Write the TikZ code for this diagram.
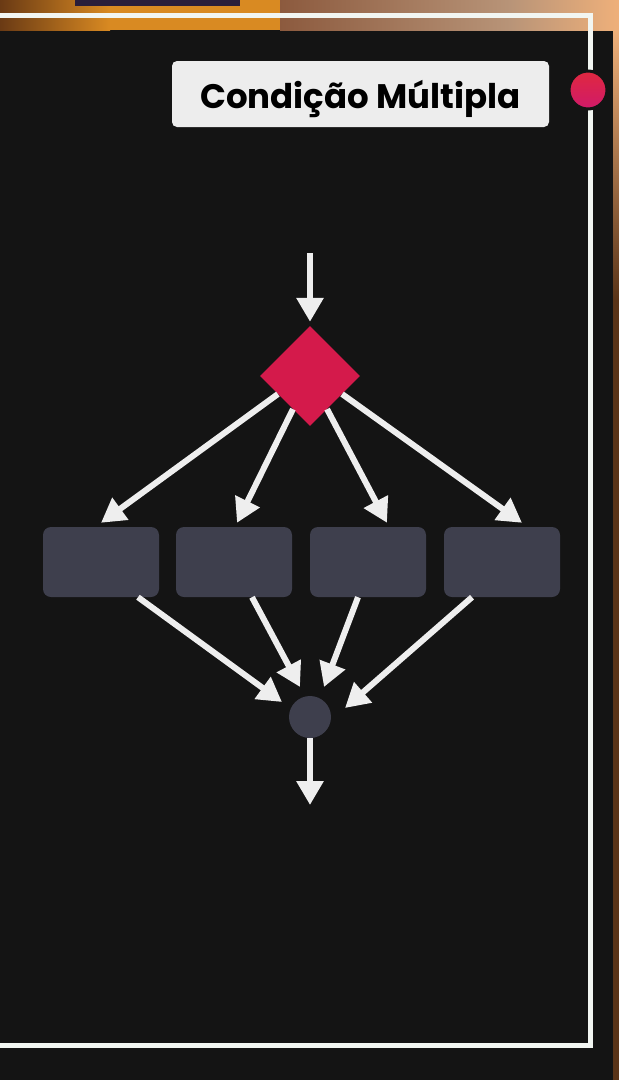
\documentclass[tikz,border=0pt]{standalone}
\usepackage{fontspec}
\setmainfont{Poppins}
\usetikzlibrary{shapes.geometric,arrows.meta,calc}
\definecolor{bg}{HTML}{141414}
\definecolor{boxc}{HTML}{3E3F4D}
\definecolor{redc}{HTML}{D41A4B}
\definecolor{arrowc}{HTML}{EEEEEE}
\definecolor{framec}{HTML}{F2F6F2}
\definecolor{titlebg}{HTML}{EDEDED}
\definecolor{dottop}{HTML}{E0283F}
\definecolor{dotbot}{HTML}{D01A6A}
\definecolor{stripA}{HTML}{6A3A14}
\definecolor{stripB}{HTML}{D98A22}
\definecolor{stripC}{HTML}{8C5A3E}
\definecolor{stripD}{HTML}{B89478}
\definecolor{stripE}{HTML}{EFB07A}
\definecolor{navy}{HTML}{2A1E3A}
\definecolor{rstrip}{HTML}{5A3418}
\begin{document}
\begin{tikzpicture}[x=1pt,y=-1pt,
  stepbox/.style={draw=none,fill=boxc,rounded corners=8pt,minimum width=116pt,minimum height=70pt,inner sep=0pt},
  decision/.style={diamond,fill=redc,minimum width=100pt,minimum height=100pt,inner sep=0pt},
  merge/.style={circle,fill=boxc,minimum size=42pt,inner sep=0pt},
  flow/.style={draw=arrowc,line width=6pt,-{Triangle[width=26pt,length=24pt]}},
  titlebox/.style={fill=titlebg,rounded corners=5pt,minimum width=377pt,minimum height=66pt,inner sep=0pt,text height=34pt,text depth=6pt,font=\bfseries\fontsize{34}{34}\selectfont,text=black}
]
\useasboundingbox (0,0) rectangle (619,1080);
% background
\fill[bg] (0,0) rectangle (619,1080);
% top strip
\shade[left color=stripA, right color=stripB] (0,0) rectangle (110,30);
\fill[stripB] (110,0) rectangle (280,30);
\shade[left color=stripC, right color=stripD] (280,0) rectangle (510,30);
\shade[left color=stripD, right color=stripE] (510,0) rectangle (619,30);
\fill[navy] (75,0) rectangle (240,6);
% right strip
\shade[top color=stripE, bottom color=rstrip] (613,30) rectangle (619,300);
\fill[rstrip] (613,300) rectangle (619,1080);
% frame
\draw[framec,line width=5pt] (-5,15) -- (590,15) -- (590,1045) -- (-5,1045);
% title
\node[titlebox] (title) at (360.5,94) {Condição Múltipla};
% red dot
\node[circle,minimum size=38pt,inner sep=0pt,draw=bg,line width=3pt,top color=dottop,bottom color=dotbot] (dot) at (588,90) {};
% flow nodes
\node[decision] (d) at (310,376) {};
\coordinate (start) at (310,253);
\node[stepbox] (b1) at (101,562) {};
\node[stepbox] (b2) at (234,562) {};
\node[stepbox] (b3) at (368,562) {};
\node[stepbox] (b4) at (502,562) {};
\node[merge] (m) at (310,717) {};
\coordinate (end) at (310,805);
% connectors
\draw[flow] (start) -- ($(d.north)+(0,-4)$);
\draw[flow] ($(d.west)!0.36!(d.south)$) -- ($(b1.north)+(0,-4)$);
\draw[flow] ($(d.west)!0.66!(d.south)$) -- ($(b2.north)+(3,-4)$);
\draw[flow] ($(d.east)!0.66!(d.south)$) -- ($(b3.north)+(19,-4)$);
\draw[flow] ($(d.east)!0.36!(d.south)$) -- ($(b4.north)+(20,-4)$);
\draw[flow] ($(b1.south)+(37,0)$) -- (282,702);
\draw[flow] ($(b2.south)+(18,0)$) -- (300,687);
\draw[flow] ($(b3.south)+(-10,0)$) -- (324,687);
\draw[flow] ($(b4.south)+(-30,0)$) -- (345,708);
\draw[flow] (m.south) -- (end);
\end{tikzpicture}
\end{document}
